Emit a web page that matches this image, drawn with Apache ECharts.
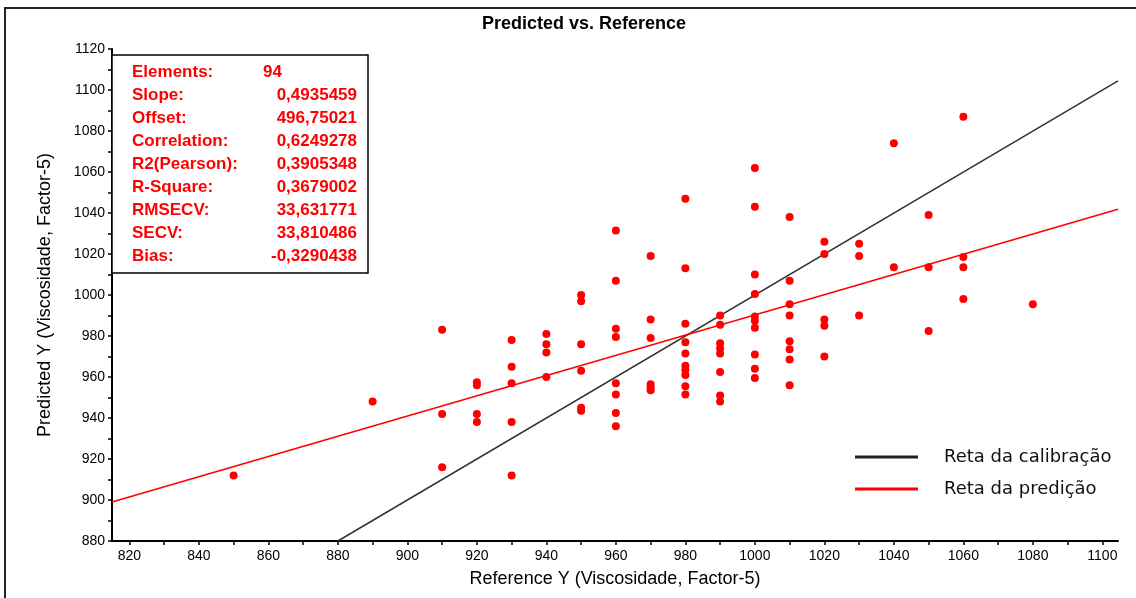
<!DOCTYPE html>
<html>
<head>
<meta charset="utf-8">
<script src="https://cdn.jsdelivr.net/npm/echarts@6/dist/echarts.min.js"></script>
<style>
  html, body { margin: 0; padding: 0; background: #fff; }
  #chart { width: 1136px; height: 598px; }
</style>
</head>
<body>
<div id="chart"></div>
<script>
// valores de referência (x) e preditos (y), agrupados por coluna
var reference = [
    850,
    890,
    910, 910, 910,
    920, 920, 920, 920,
    930, 930, 930, 930, 930,
    940, 940, 940, 940,
    950, 950, 950, 950, 950, 950,
    960, 960, 960, 960, 960, 960, 960, 960,
    970, 970, 970, 970, 970, 970,
    980, 980, 980, 980, 980, 980, 980, 980, 980, 980,
    990, 990, 990, 990, 990, 990, 990, 990,
    1000, 1000, 1000, 1000, 1000, 1000, 1000, 1000, 1000, 1000,
    1010, 1010, 1010, 1010, 1010, 1010, 1010, 1010,
    1020, 1020, 1020, 1020, 1020,
    1030, 1030, 1030,
    1040, 1040,
    1050, 1050, 1050,
    1060, 1060, 1060, 1060,
    1080
];
var predicted = [
    912,
    948,
    983, 942, 916,
    957.5, 956, 942, 938,
    978, 965, 957, 938, 912,
    981, 976, 972, 960,
    1000, 997, 976, 963, 945, 943.5,
    1031.5, 1007, 983.5, 979.5, 957, 951.5, 942.5, 936,
    1019, 988, 979, 956.5, 955, 953.5,
    1047, 1013, 986, 977, 971.5, 965.5, 963.5, 961, 955.5, 951.5,
    990, 985.5, 976.5, 974, 971.5, 962.5, 951, 948,
    1062, 1043, 1010, 1000.5, 989.5, 987.5, 984, 971, 964, 959.5,
    1038, 1007, 995.5, 990, 977.5, 973.5, 968.5, 956,
    1026, 1020, 988, 985, 970,
    1025, 1019, 990,
    1074, 1013.5,
    1039, 1013.5, 982.5,
    1087, 1018.5, 1013.5, 998,
    995.5
];

// estatísticas do modelo
var statNames = ['Elements:', 'Slope:', 'Offset:', 'Correlation:', 'R2(Pearson):',
    'R-Square:', 'RMSECV:', 'SECV:', 'Bias:'];
var statValues = ['94', '0,4935459', '496,75021', '0,6249278', '0,3905348',
    '0,3679002', '33,631771', '33,810486', '-0,3290438'];
var slope = 0.4935459;
var offset = 496.75021;

// eixos
var xMin = 815, xMax = 1104.5;
var yMin = 880, yMax = 1120;
var xTickLabels = [820, 840, 860, 880, 900, 920, 940, 960, 980, 1000, 1020, 1040, 1060, 1080, 1100];
var yTickLabels = [880, 900, 920, 940, 960, 980, 1000, 1020, 1040, 1060, 1080, 1100, 1120];
var legendNames = ['Reta da calibração', 'Reta da predição'];

function withMinor(labels, max) {
    var out = [];
    labels.forEach(function(v) {
        out.push(v);
        if (v + 10 <= max) out.push(v + 10);
    });
    return out;
}

var points = reference.map(function(x, i) { return [x, predicted[i]]; });
var calibLine = [[yMin, yMin], [xMax, xMax]];
var predLine = [xMin, xMax].map(function(x) { return [x, slope * x + offset]; });

var font = 'Liberation Sans, Arial, sans-serif';
var plain = function(v) { return String(v); };

// caixa de estatísticas
var statGraphics = [{
    type: 'rect',
    shape: { x: 112, y: 55, width: 256, height: 218 },
    style: { fill: '#fff', stroke: '#000', lineWidth: 1.5 },
    z: 10
}];
statNames.forEach(function(name, i) {
    var y = 72 + i * 23;
    statGraphics.push({
        type: 'text', x: 132, y: y, z: 11,
        style: { text: name, fill: '#ff0000', font: 'bold 17px ' + font, textVerticalAlign: 'middle' }
    });
    statGraphics.push({
        type: 'text', x: i === 0 ? 263 : 357, y: y, z: 11,
        style: {
            text: statValues[i], fill: '#ff0000', font: 'bold 17px ' + font,
            textAlign: i === 0 ? 'left' : 'right', textVerticalAlign: 'middle'
        }
    });
});

var myChart = echarts.init(document.getElementById('chart'));
myChart.setOption({
    animation: false,
    backgroundColor: '#fff',
    title: {
        text: 'Predicted vs. Reference',
        left: 477,
        top: 10,
        textStyle: { color: '#000', fontSize: 18, fontWeight: 'bold', fontFamily: font }
    },
    legend: {
        data: legendNames,
        orient: 'vertical',
        left: 850,
        top: 443,
        icon: 'rect',
        itemWidth: 63,
        itemHeight: 3,
        itemGap: 14,
        textStyle: { color: '#111', fontSize: 18, fontFamily: 'DejaVu Sans', padding: [0, 0, 0, 21] }
    },
    grid: { left: 112, right: 18, top: 49, bottom: 57 },
    xAxis: {
        type: 'value',
        min: xMin,
        max: xMax,
        name: 'Reference Y (Viscosidade, Factor-5)',
        nameLocation: 'middle',
        nameGap: 29,
        nameTextStyle: { color: '#000', fontSize: 18, fontFamily: font },
        axisLine: { onZero: false, lineStyle: { color: '#000', width: 2 } },
        axisTick: { show: true, length: 4, customValues: withMinor(xTickLabels, xMax), lineStyle: { color: '#000', width: 1.5 } },
        axisLabel: { customValues: xTickLabels, formatter: plain, color: '#000', fontSize: 14, fontFamily: font, margin: 8 },
        splitLine: { show: false }
    },
    yAxis: {
        type: 'value',
        min: yMin,
        max: yMax,
        name: 'Predicted Y (Viscosidade, Factor-5)',
        nameLocation: 'middle',
        nameGap: 58,
        nameTextStyle: { color: '#000', fontSize: 18, fontFamily: font },
        axisLine: { onZero: false, lineStyle: { color: '#000', width: 2 } },
        axisTick: { show: true, length: 4, customValues: withMinor(yTickLabels, yMax), lineStyle: { color: '#000', width: 1.5 } },
        axisLabel: { customValues: yTickLabels, formatter: plain, color: '#000', fontSize: 14, fontFamily: font, margin: 7 },
        splitLine: { show: false }
    },
    graphic: [{
        type: 'rect',
        shape: { x: 5, y: 8, width: 1200, height: 700 },
        style: { fill: 'none', stroke: '#222', lineWidth: 2 },
        silent: true
    }].concat(statGraphics),
    series: [{
        name: legendNames[0],
        type: 'line',
        data: calibLine,
        showSymbol: false,
        color: '#222',
        lineStyle: { color: '#333', width: 1.5 },
        z: 3
    }, {
        name: legendNames[1],
        type: 'line',
        data: predLine,
        showSymbol: false,
        color: '#ff0000',
        lineStyle: { color: '#ff0000', width: 1.5 },
        z: 3
    }, {
        name: 'Amostras',
        type: 'scatter',
        data: points,
        symbolSize: 8,
        itemStyle: { color: '#ff0000', opacity: 1 },
        z: 4
    }]
});
</script>
</body>
</html>
